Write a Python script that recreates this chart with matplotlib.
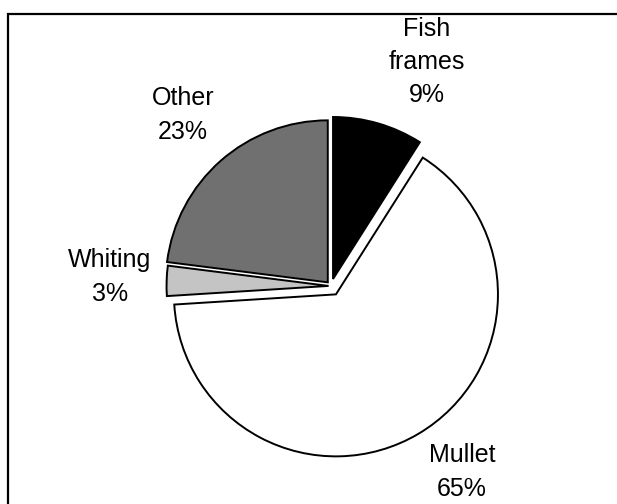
import matplotlib
matplotlib.use("Agg")
from matplotlib import pyplot as plt
from matplotlib.patches import Rectangle

# quote del pescato (%), in senso orario da ore 12
names = ['Fish\nframes', 'Mullet', 'Whiting', 'Other']
shares = [9, 65, 3, 23]
slice_colors = ['#000000', '#ffffff', '#c4c4c4', '#707070']
explode = [0.045, 0.06, 0.015, 0.03]

# posizioni etichette in pixel (origine in alto a sinistra)
label_pos = [(427, 62), (462, 472), (110, 277), (183, 115)]

W, H = 617, 504
R = 162
fig = plt.figure(figsize=(W / 100, H / 100), dpi=100)
ax = fig.add_axes([0, 0, 1, 1])

# explode di matplotlib e' in unita' dati, quindi scalo per il raggio
ax.pie(shares, colors=slice_colors, explode=[e * R for e in explode],
       startangle=90, counterclock=False, center=(331, H - 286), radius=R,
       frame=True, wedgeprops={'edgecolor': 'black', 'linewidth': 1.4})
ax.set_xlim(0, W)
ax.set_ylim(0, H)
ax.set_aspect('auto')
ax.axis('off')

for n, s, (x, y) in zip(names, shares, label_pos):
    ax.text(x, H - y, f'{n}\n{s}%', ha='center', va='center',
            fontsize=18, family='Liberation Sans', linespacing=1.5)

# cornice
ax.add_patch(Rectangle((8, -20), 700, H - 14 + 20, fill=False,
                       edgecolor='black', linewidth=1.6, clip_on=False))

fig.savefig('out.png', dpi=100)
